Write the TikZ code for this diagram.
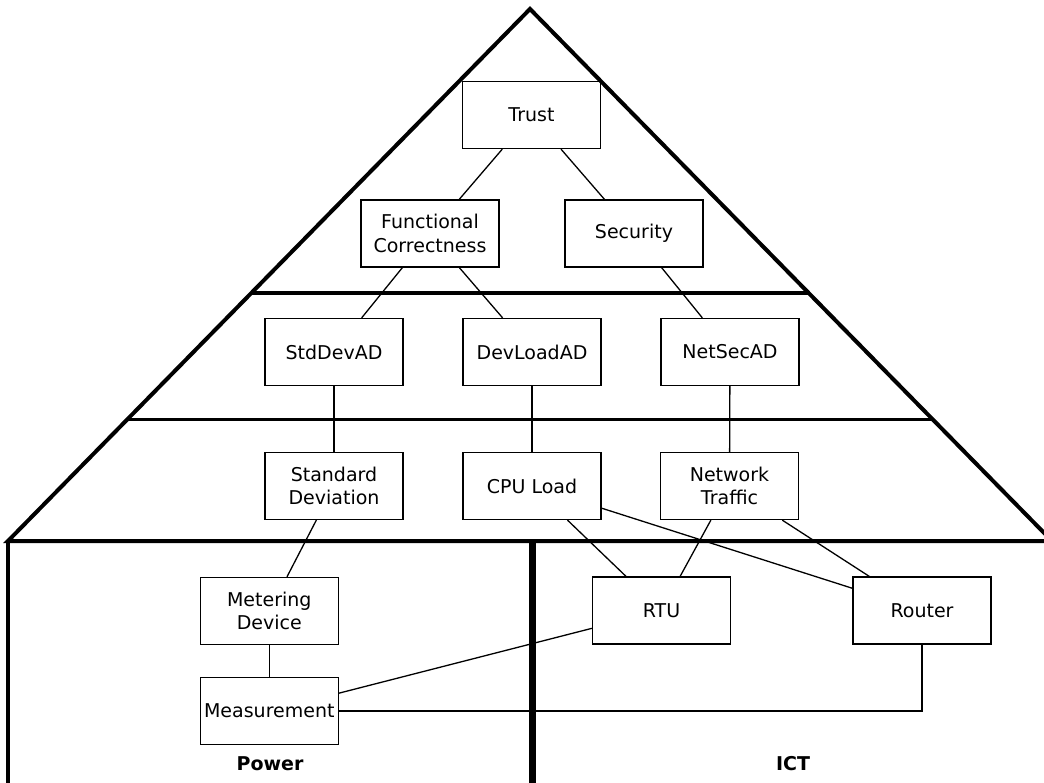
\documentclass[tikz,border=0pt]{standalone}
\usepackage{fontspec}
\setmainfont{DejaVu Sans}
\usetikzlibrary{calc}
\begin{document}
\begin{tikzpicture}[x=1pt,y=-1pt,
  every node/.style={font=\fontsize{19}{23.3}\selectfont},
  box/.style={draw, line width=1.3pt, minimum width=138pt, minimum height=67pt,
              inner sep=0pt, align=center},
  link/.style={line width=1.3pt},
  wall/.style={line width=4pt, line join=miter},
  layer/.style={line width=3.5pt},
  divider/.style={line width=7pt},
  caption/.style={font=\fontsize{19}{23}\selectfont\bfseries}]
\fill[white] (0,0) rectangle (1044,782);
\useasboundingbox (0,0) rectangle (1044,782);

% house outline
\coordinate (apex)  at (530,9);
\coordinate (leftc) at (8,541);
\coordinate (rightc) at (1052,541);
\coordinate (wallL) at (8,790);
\coordinate (midtop) at (532,541);
\coordinate (midbot) at (532,790);
\begin{scope}
  \clip (0,0) rectangle (1044,782);
  \draw[wall] (leftc) -- (apex) -- (rightc) -- cycle;
  \draw[wall] (leftc) -- (wallL);
  \draw[divider] (midtop) -- (midbot);
  % layer separators inside the roof
  \draw[layer] ($(apex)!0.534!(leftc)$) -- ($(apex)!0.534!(rightc)$);
  \draw[layer] ($(apex)!0.7716!(leftc)$) -- ($(apex)!0.7716!(rightc)$);
\end{scope}

% nodes
\node[box] (trust) at (531.5,115) {Trust};
\node[box] (fc)    at (430,233.5) {Functional\\Correctness};
\node[box] (sec)   at (634,233.5) {Security};
\node[box] (sdad)  at (334,352) {StdDevAD};
\node[box] (dlad)  at (532,352) {DevLoadAD};
\node[box] (nsad)  at (730,352) {NetSecAD};
\node[box] (sd)    at (334,486) {Standard\\Deviation};
\node[box] (cpu)   at (532,486) {CPU Load};
\node[box] (nt)    at (729.5,486) {Network\\Traffic};
\node[box] (md)    at (269.3,611) {Metering\\Device};
\node[box] (meas)  at (269.3,711) {Measurement};
\node[box] (rtu)   at (661.5,610.5) {RTU};
\node[box] (router) at (922,610.5) {Router};

\node[caption] (power) at (270,764) {Power};
\node[caption] (ict)   at (793,764) {ICT};

% connectors
\draw[link] (trust) -- (fc);
\draw[link] (trust) -- (sec);
\draw[link] (fc) -- (sdad);
\draw[link] (fc) -- (dlad);
\draw[link] (sec) -- (nsad);
\draw[link] (sdad) -- (sd);
\draw[link] (dlad) -- (cpu);
\draw[link] (nsad) -- (nt);
\draw[link] (sd) -- (md);
\draw[link] (md) -- (meas);
\draw[link] (cpu) -- (rtu);
\draw[link] (cpu) -- (router);
\draw[link] (nt) -- (rtu);
\draw[link] (nt) -- (router);
\draw[link] (rtu) -- (meas);
\draw[link] (router.south) |- (meas.east);
\end{tikzpicture}
\end{document}
